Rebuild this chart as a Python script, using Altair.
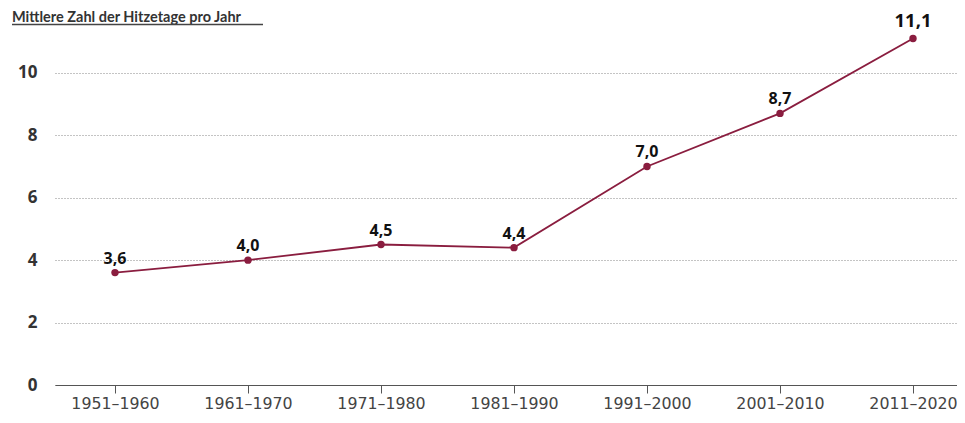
import altair as alt
import pandas as pd

decades = ["1951–1960", "1961–1970", "1971–1980", "1981–1990", "1991–2000", "2001–2010", "2011–2020"]
values = [3.6, 4.0, 4.5, 4.4, 7.0, 8.7, 11.1]
big = [False, False, False, False, False, False, True]
y_ticks = [0, 2, 4, 6, 8, 10]
title_text = "Mittlere Zahl der Hitzetage pro Jahr"

df = pd.DataFrame({
    "idx": list(range(len(decades))),
    "decade": decades,
    "value": values,
    "label": [f"{v:.1f}".replace(".", ",") for v in values],
    "big": big,
})

LINE = "#8a1d3f"
W, H = 902, 359
label_arr = "[" + ",".join(f"'{d}'" for d in decades) + "]"

x = alt.X("idx:Q",
          scale=alt.Scale(domain=[-60 / 133, 6 + 44 / 133], nice=False, zero=False),
          axis=alt.Axis(title=None, values=list(range(len(decades))),
                        labelExpr=f"{label_arr}[datum.value]",
                        labelAngle=0, labelFont="DejaVu Sans", labelFontSize=15.8,
                        labelColor="#444", tickColor="#555", tickSize=8, domain=True,
                        domainColor="#555", domainWidth=1.2,
                        labelPadding=3, grid=False))
y = alt.Y("value:Q", scale=alt.Scale(domain=[0, 11.5], nice=False),
          axis=alt.Axis(title=None, values=y_ticks, labelFont="Open Sans", labelFontWeight="bold",
                        labelFontSize=17, labelColor="#333", ticks=False, domain=False,
                        labelPadding=18, grid=True, gridColor="#888", gridDash=[1, 2], gridWidth=1))

base = alt.Chart(df)
line = base.mark_line(color=LINE, strokeWidth=1.8).encode(x=x, y=y)
pts = base.mark_circle(color=LINE, size=55, opacity=1).encode(x=x, y=y)
labels_small = base.transform_filter("!datum.big").mark_text(
    font="Open Sans", fontWeight="bold", fontSize=16, color="#111", baseline="bottom", dy=-6
).encode(x=x, y=y, text="label:N")
labels_big = base.transform_filter("datum.big").mark_text(
    font="Open Sans", fontWeight="bold", fontSize=18.5, color="#111", baseline="alphabetic", dy=-11
).encode(x=x, y=y, text="label:N")

title = alt.Chart(pd.DataFrame({"t": [title_text]})).mark_text(
    font="Lato", fontWeight="bold", fontSize=14.5, color="#333",
    align="left", baseline="alphabetic"
).encode(x=alt.value(-43), y=alt.value(-4), text="t:N")
underline = alt.Chart(pd.DataFrame({"a": [0]})).mark_rule(color="#444", strokeWidth=1.4).encode(
    x=alt.value(-43), x2=alt.value(208), y=alt.value(-1.5))

chart = alt.layer(line, pts, labels_small, labels_big, title, underline).properties(
    width=W, height=H,
    autosize=alt.AutoSizeParams(type="none"),
    padding={"left": 47, "top": 18, "right": 0, "bottom": 30},
).configure_view(stroke=None)

chart.save("out.html", embed_options={"renderer": "svg", "actions": False})
